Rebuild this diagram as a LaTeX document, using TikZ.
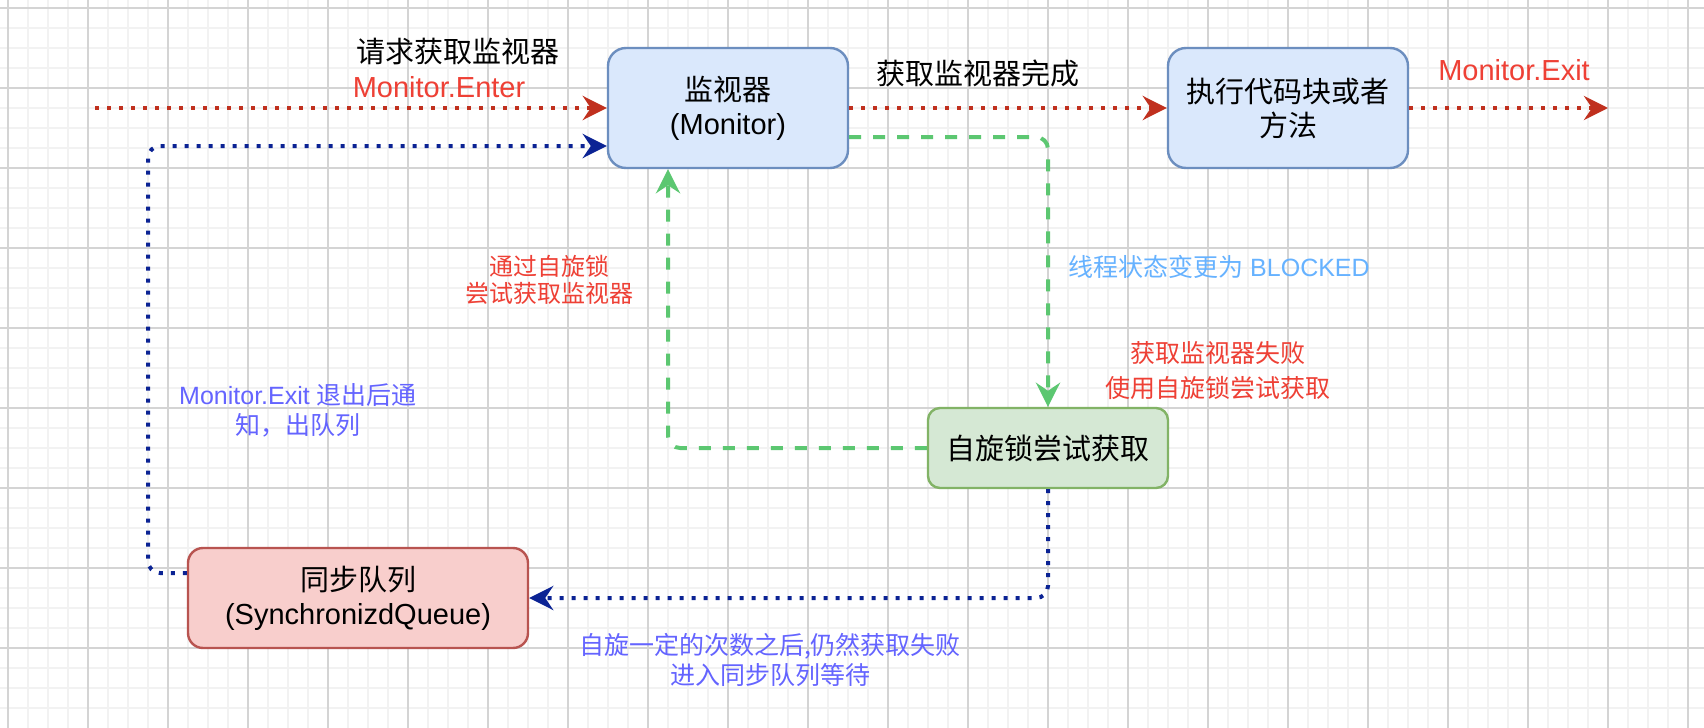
\documentclass[tikz,border=0pt]{standalone}
\usepackage{fontspec}
\setmainfont{Liberation Sans}
\newfontfamily\cjk{Noto Sans CJK SC}
\usetikzlibrary{arrows.meta}
\definecolor{gridmaj}{HTML}{D4D4D4}
\definecolor{gridmin}{HTML}{F2F2F2}
\definecolor{flowred}{HTML}{C0301E}
\definecolor{flowblue}{HTML}{0B2394}
\definecolor{flowgreen}{HTML}{5CC771}
\definecolor{txtred}{HTML}{EE4035}
\definecolor{txtblue}{HTML}{6464FF}
\definecolor{txtlblue}{HTML}{66B2FF}
\definecolor{bluefill}{HTML}{DAE8FC}
\definecolor{bluedraw}{HTML}{6C8EBF}
\definecolor{greenfill}{HTML}{D5E8D4}
\definecolor{greendraw}{HTML}{82B366}
\definecolor{redfill}{HTML}{F8CECC}
\definecolor{reddraw}{HTML}{B85450}
\begin{document}
\begin{tikzpicture}[x=0.5pt,y=-0.5pt,
  gridminor/.style={draw=gridmin,line width=1pt},
  gridmajor/.style={draw=gridmaj,line width=0.55pt},
  box/.style={rectangle,draw,line width=1.2pt,inner sep=0pt,align=center,text=black,
    font=\fontsize{14.5pt}{17pt}\selectfont},
  bluebox/.style={box,fill=bluefill,draw=bluedraw,rounded corners=9pt,minimum width=120pt,minimum height=60pt},
  bigtxt/.style={inner sep=0pt,align=center,font=\fontsize{14.5pt}{17pt}\selectfont},
  lbl/.style={inner sep=0pt,align=center,font=\fontsize{12.5pt}{15pt}\selectfont},
  tip/.style={-{Stealth[length=12pt,width=12pt,inset=4pt]}},
  dotline/.style={tip,line width=2pt,dash pattern=on 2pt off 4pt},
  dashline/.style={tip,line width=2pt,dash pattern=on 6pt off 6pt,draw=flowgreen,rounded corners=6pt},
]
\useasboundingbox (0,0) rectangle (1704,728);
\fill[white] (0,0) rectangle (1704,728);
% grid
\foreach \i in {0,...,84} \draw[gridminor] ({8+20*\i},0) -- ({8+20*\i},728);
\foreach \i in {0,...,35} \draw[gridminor] (0,{8+20*\i}) -- (1704,{8+20*\i});
\foreach \i in {0,...,21} \draw[gridmajor] ({8+80*\i},0) -- ({8+80*\i},728);
\foreach \i in {0,...,8} \draw[gridmajor] (0,{8+80*\i}) -- (1704,{8+80*\i});

% nodes
\node[bluebox] (mon) at (728,108) {{\cjk 监视器}\\(Monitor)};
\node[bluebox] (exec) at (1288,108) {{\cjk 执行代码块或者}\\{\cjk 方法}};
\node[box,fill=greenfill,draw=greendraw,rounded corners=6pt,minimum width=120pt,minimum height=40pt] (spin) at (1048,448) {{\cjk 自旋锁尝试获取}};
\node[box,fill=redfill,draw=reddraw,rounded corners=7.5pt,minimum width=170pt,minimum height=50pt] (queue) at (358,598) {{\cjk 同步队列}\\(SynchronizdQueue)};

\coordinate (s1) at (95,108);
\coordinate (e1) at (1608,108);
\coordinate (c1) at (148,360);

% connectors
\draw[dotline,draw=flowred] (s1) -- (mon.west);
\draw[dotline,draw=flowred] (mon.east) -- (exec.west);
\draw[dotline,draw=flowred] (exec.east) -- (e1);
\draw[dashline] ([yshift=-14.5pt]mon.east) -| (spin.north);
\draw[dashline] (spin.west) -| ([xshift=-30pt]mon.south);
\draw[dotline,draw=flowblue,rounded corners=6pt] (spin.south) |- (queue.east);
\draw[dotline,draw=flowblue,rounded corners=6pt] ([yshift=12.5pt]queue.west) -| (c1) |- ([yshift=-19pt]mon.west);

% labels
\node[bigtxt] (l1) at (458,52) {{\cjk 请求获取监视器}};
\node[bigtxt,text=txtred] (l2) at (439,87) {Monitor.Enter};
\node[bigtxt] (l3) at (978,73) {{\cjk 获取监视器完成}};
\node[bigtxt,text=txtred] (l4) at (1514,70) {Monitor.Exit};
\node[lbl,text=txtred,font=\fontsize{12pt}{13.5pt}\selectfont] (l5) at (549,280) {{\cjk 通过自旋锁}\\{\cjk 尝试获取监视器}};
\node[lbl,text=txtlblue] (l6) at (1219,267) {{\cjk 线程状态变更为} BLOCKED};
\node[lbl,text=txtred,font=\fontsize{12.5pt}{17.5pt}\selectfont] (l7) at (1218,371) {{\cjk 获取监视器失败}\\{\cjk 使用自旋锁尝试获取}};
\node[lbl,text=txtblue] (l8) at (298,410) {Monitor.Exit {\cjk 退出后通}\\{\cjk 知，出队列}};
\node[lbl,text=txtblue] (l9) at (770,660) {{\cjk 自旋一定的次数之后,仍然获取失败}\\{\cjk 进入同步队列等待}};
\end{tikzpicture}
\end{document}
